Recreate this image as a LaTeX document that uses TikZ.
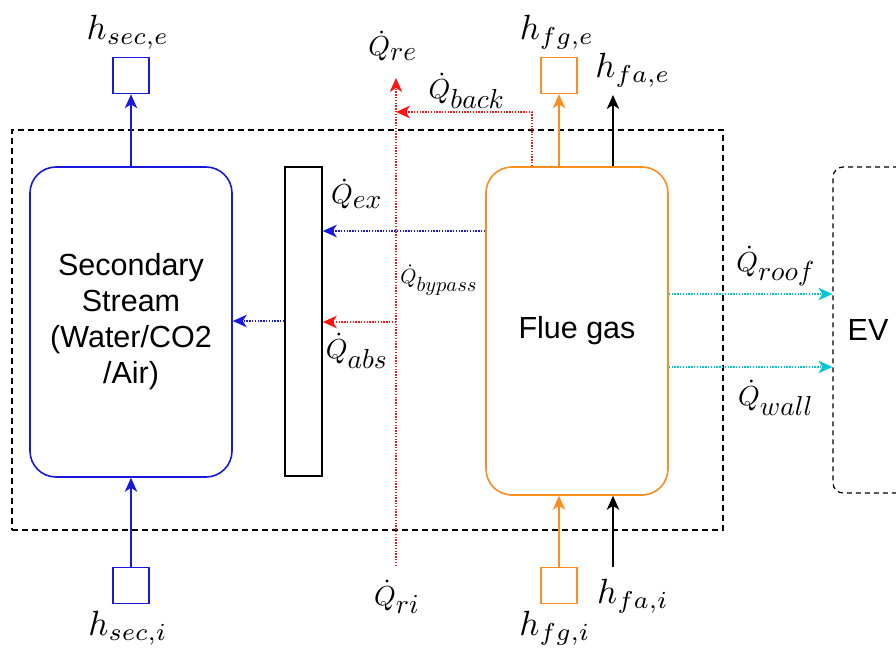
\documentclass[tikz,border=0pt]{standalone}
\usepackage{fontspec}
\newfontfamily\arialf{Liberation Sans}
\usetikzlibrary{arrows.meta}
\definecolor{sblue}{RGB}{25,25,220}
\definecolor{forange}{RGB}{255,140,30}
\definecolor{qred}{RGB}{255,20,20}
\definecolor{qcyan}{RGB}{0,200,210}
\begin{document}
\begin{tikzpicture}[x=1pt,y=-1pt,
  tip/.style={-{Stealth[length=14pt,width=12.5pt,inset=4pt]}},
  flowbox/.style={draw=#1,line width=1.6pt,rounded corners=26pt,inner sep=0pt},
  sq/.style={draw=#1,line width=1.6pt,minimum size=36pt,inner sep=0pt},
  solidarr/.style={tip,draw=#1,line width=1.6pt},
  dotarr/.style={tip,draw=#1,line width=1.3pt,dash pattern=on 1.4pt off 1.4pt},
  sans/.style={font=\arialf\fontsize{30.5}{36}\selectfont,align=center},
  hlab/.style={font=\fontsize{10}{12}\selectfont,inner sep=0pt,scale=3.5},
  qlab/.style={font=\fontsize{10}{12}\selectfont,inner sep=0pt,scale=2.75},
  qsmall/.style={font=\fontsize{10}{12}\selectfont,inner sep=0pt,scale=2.05}]
\useasboundingbox (0,0) rectangle (896,650);
\begin{scope}
\clip (0,0) rectangle (896,650);
% system boundary
\node[draw,line width=1.6pt,dash pattern=on 6pt off 4pt,minimum width=711pt,minimum height=400pt,inner sep=0pt] (sys) at (367.5,330) {};
% main blocks
\node[flowbox=sblue,minimum width=202pt,minimum height=310pt,sans] (sec) at (131,322) {Secondary\\Stream\\(Water/CO2\\/Air)};
\node[draw,line width=1.6pt,minimum width=37pt,minimum height=309pt,inner sep=0pt] (wall) at (303.5,321.5) {};
\node[flowbox=forange,minimum width=182pt,minimum height=328pt,sans] (flue) at (577,331) {Flue gas};
\node[draw,line width=1.2pt,dash pattern=on 5pt off 4pt,rounded corners=10pt,minimum width=120pt,minimum height=326pt,inner sep=0pt] (ev) at (893,330) {};
\node[sans] (evt) at (868,330) {EV};
% squares
\node[sq=sblue] (se) at (131,75.5) {};
\node[sq=sblue] (si) at (131,585.5) {};
\node[sq=forange] (fe) at (559,75.5) {};
\node[sq=forange] (fi) at (559,585.5) {};
% labels
\node[hlab] (lse) at (128,32) {$h_{sec,e}$};
\node[hlab] (lsi) at (128,628) {$h_{sec,i}$};
\node[hlab] (lfe) at (557,32) {$h_{fg,e}$};
\node[hlab] (lfi) at (555,628) {$h_{fg,i}$};
\node[hlab] (lfae) at (633,70) {$h_{fa,e}$};
\node[hlab] (lfai) at (633,596) {$h_{fa,i}$};
\node[qlab] (lre) at (393,46) {$\dot{Q}_{\textstyle re}$};
\node[qlab] (lback) at (467,91) {$\dot{Q}_{\textstyle back}$};
\node[qlab] (lex) at (357,194) {$\dot{Q}_{\textstyle ex}$};
\node[qsmall] (lby) at (439,280) {$\dot{Q}_{\textstyle bypass}$};
\node[qlab] (labs) at (357,351) {$\dot{Q}_{\textstyle abs}$};
\node[qlab] (lri) at (397,597) {$\dot{Q}_{\textstyle ri}$};
\node[qlab] (lroof) at (776,266) {$\dot{Q}_{\textstyle roof}$};
\node[qlab] (lwall) at (776,398) {$\dot{Q}_{\textstyle wall}$};
% helper coordinates
\coordinate (fae) at (613,95);
\coordinate (fai) at (613,567);
\coordinate (rb) at (396,566);
\coordinate (rt) at (396,78);
\coordinate (bk) at (532,112);
\coordinate (yex) at (0,231);
\coordinate (yabs) at (0,322);
\coordinate (ysec) at (0,321);
\coordinate (yroof) at (0,294);
\coordinate (ywall) at (0,367);
% solid flows
\draw[solidarr=sblue] (sec.north) -- (se.south);
\draw[solidarr=sblue] (si.north) -- (sec.south);
\draw[solidarr=forange] (flue.north -| fe) -- (fe.south);
\draw[solidarr=forange] (fi.north) -- (flue.south -| fi);
\draw[solidarr=black] (flue.north -| fae) -- (fae);
\draw[solidarr=black] (fai) -- (fai |- flue.south);
% heat flows
\draw[dotarr=sblue] (flue.west |- yex) -- (wall.east |- yex);
\draw[dotarr=sblue] (wall.west |- ysec) -- (sec.east |- ysec);
\draw[dotarr=qred] (rb) -- (rt);
\draw[dotarr=qred] (rb |- yabs) -- (wall.east |- yabs);
\draw[dotarr=qred] (flue.north -| bk) -- (bk) -- (rt |- bk);
\draw[dotarr=qcyan] (flue.east |- yroof) -- (ev.west |- yroof);
\draw[dotarr=qcyan] (flue.east |- ywall) -- (ev.west |- ywall);
\end{scope}
\end{tikzpicture}
\end{document}
